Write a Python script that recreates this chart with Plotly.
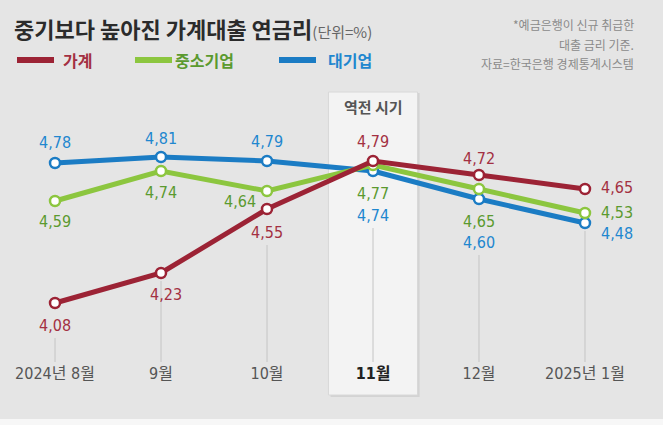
import plotly.graph_objects as go

# data
months = ['2024년 8월', '9월', '10월', '11월', '12월', '2025년 1월']
household = [4.08, 4.23, 4.55, 4.79, 4.72, 4.65]   # 가계
sme = [4.59, 4.74, 4.64, 4.77, 4.65, 4.53]         # 중소기업
large = [4.78, 4.81, 4.79, 4.74, 4.60, 4.48]       # 대기업
highlight_month = '11월'

# styles
W, H = 663, 425
PLOT_H = 362
Y_RANGE = [3.785, 5.595]
PX_PER_UNIT = PLOT_H / (Y_RANGE[1] - Y_RANGE[0])
BG = '#e5e5e5'
NUM_FONT = 'Liberation Sans Narrow, DejaVu Sans Condensed, Noto Sans CJK KR'
KR_FONT = 'Noto Sans CJK KR'

series = [
    # name, values, line colour, text colour, label offsets (dx, dy px; dy down)
    ('대기업', large, '#1b7cc4', '#1f87cf',
     [(0, -21), (0, -19), (0, -20), (0, 44), (0, 43), (32, 10)]),
    ('중소기업', sme, '#8cc63f', '#5b9a2f',
     [(0, 20), (0, 21), (-27, 10), (0, 28), (0, 32), (32, -1)]),
    ('가계', household, '#9c2335', '#a33042',
     [(0, 22), (5, 21), (0, 23), (0, -20), (0, -17), (32, -2)]),
]

def py(px):
    # pixel row -> paper y
    return 1 - px / PLOT_H

fig = go.Figure()

shapes = []
annotations = []

# highlight box around 11월
hi = months.index(highlight_month)
shapes.append(dict(type='rect', xref='x', yref='paper', x0=hi - 0.40, x1=hi + 0.44,
                   y0=py(397), y1=py(93), fillcolor='#d3d3d3', line_width=0, layer='below'))
shapes.append(dict(type='rect', xref='x', yref='paper', x0=hi - 0.42, x1=hi + 0.42,
                   y0=py(395), y1=py(92), fillcolor='#f3f3f3', line=dict(color='#d8d8d8', width=1),
                   layer='below'))
annotations.append(dict(x=hi, y=py(107), xref='x', yref='paper', yanchor='middle',
                        text='<b>역전 시기</b>', showarrow=False,
                        font=dict(family=KR_FONT, size=15, color='#555555')))

# vertical guide lines below the lowest label of each month
for i in range(len(months)):
    lows = []
    for name, vals, lc, tc, offs in series:
        dx, dy = offs[i]
        lows.append(vals[i] - (dy + 13) / PX_PER_UNIT if dx == 0 and dy > 0
                    else vals[i] - 8 / PX_PER_UNIT)
    shapes.append(dict(type='line', xref='x', yref='y', x0=i, x1=i,
                       y0=Y_RANGE[0], y1=min(lows),
                       line=dict(color='#c4c4c4', width=1), layer='below'))

# bottom light strip
shapes.append(dict(type='rect', xref='paper', yref='paper', x0=0, x1=1,
                   y0=py(H + 5), y1=py(419), fillcolor='#f7f7f7', line_width=0))

for name, vals, lc, tc, offs in series:
    fig.add_trace(go.Scatter(
        x=months, y=vals, mode='lines+markers', name=name,
        line=dict(color=lc, width=5),
        marker=dict(size=10, color='white', line=dict(color=lc, width=2.5)),
        showlegend=False, hoverinfo='skip'))
    for i, v in enumerate(vals):
        dx, dy = offs[i]
        annotations.append(dict(x=i, y=v, xref='x', yref='y',
                                text=f'{v:.2f}'.replace('.', ','),
                                xshift=dx, yshift=-dy, showarrow=False,
                                font=dict(family=NUM_FONT, size=16, color=tc)))

# title and legend
annotations.append(dict(x=12 / W, y=py(28), xref='paper', yref='paper',
                        xanchor='left', yanchor='middle', showarrow=False,
                        text="<b>중기보다 높아진 가계대출 연금리</b><span style='font-size:15px;color:#666666'>(단위=%)</span>",
                        font=dict(family=KR_FONT, size=22, color='#2b2b2b')))
legend_pos = [(17, 61), (135, 173), (279, 326)]
for (lx, tx), (name, vals, lc, tc, offs) in zip(legend_pos, series[::-1]):
    shapes.append(dict(type='line', xref='paper', yref='paper', x0=lx / W, x1=(lx + 37) / W,
                       y0=py(60), y1=py(60), line=dict(color=lc, width=6)))
    annotations.append(dict(x=tx / W, y=py(60), xref='paper', yref='paper',
                            xanchor='left', yanchor='middle',
                            text=f'<b>{name}</b>', showarrow=False,
                            font=dict(family=KR_FONT, size=16, color=tc)))

notes = ['*예금은행이 신규 취급한', '대출 금리 기준.', '자료=한국은행 경제통계시스템']
for k, t in enumerate(notes):
    annotations.append(dict(x=636 / W, y=py(25 + 19 * k), xref='paper', yref='paper',
                            xanchor='right', yanchor='middle', text=t, showarrow=False,
                            font=dict(family=KR_FONT, size=12, color='#8a8a8a')))

ticktext = [f"<b><span style='color:#222222'>{m}</span></b>" if m == highlight_month else m
            for m in months]

fig.update_layout(
    width=W, height=H,
    margin=dict(l=0, r=0, t=0, b=H - PLOT_H),
    paper_bgcolor=BG, plot_bgcolor=BG,
    shapes=shapes, annotations=annotations,
    xaxis=dict(type='category', range=[-0.519, 5.736], showgrid=False, zeroline=False,
               showline=False, ticks='', tickvals=months, ticktext=ticktext,
               tickfont=dict(family=NUM_FONT, size=16, color='#555555'),
               fixedrange=True),
    yaxis=dict(range=Y_RANGE, visible=False, fixedrange=True),
)

fig.write_html('out.html', config={'displayModeBar': False},
               post_script="document.body.style.margin='0';")
